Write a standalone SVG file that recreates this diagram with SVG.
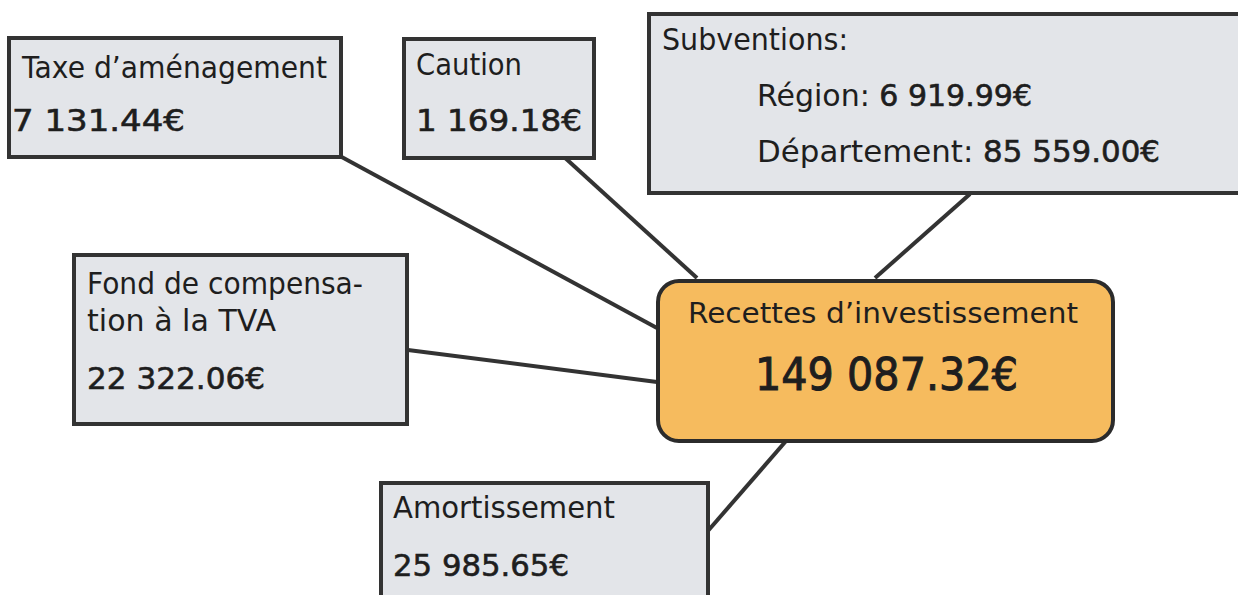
<svg xmlns="http://www.w3.org/2000/svg" width="1238" height="595" viewBox="0 0 1238 595">
<style>
.box{fill:#e3e5e9;stroke:#333;stroke-width:4}
.main{fill:#f6bb5e;stroke:#2b2b2b;stroke-width:4}
.conn{stroke:#333;stroke-width:4;fill:none}
text{font-family:"Comic Sans MS","DejaVu Sans",sans-serif;font-size:30px;fill:#1e1e1e}
.num{stroke:#1e1e1e;stroke-width:0.6}
.big{font-size:44px;stroke:#1e1e1e;stroke-width:1}
.title{font-size:28px}
</style>
<rect width="1238" height="595" fill="#ffffff"/>
<g id="connectors">
<line class="conn" x1="338" y1="155" x2="657" y2="328"/>
<line class="conn" x1="563" y1="156" x2="697" y2="278"/>
<line class="conn" x1="970" y1="194" x2="875" y2="278"/>
<line class="conn" x1="408" y1="350" x2="657" y2="382"/>
<line class="conn" x1="786" y1="441" x2="707" y2="532"/>
</g>
<g id="taxe">
<rect class="box" x="9" y="38" width="332" height="119"/>
<text x="22" y="78" textLength="305" lengthAdjust="spacingAndGlyphs">Taxe d’aménagement</text>
<text class="num" x="12" y="131" textLength="173" lengthAdjust="spacingAndGlyphs">7 131.44€</text>
</g>
<g id="caution">
<rect class="box" x="404" y="39" width="190" height="119"/>
<text x="416" y="75" textLength="106" lengthAdjust="spacingAndGlyphs">Caution</text>
<text class="num" x="416" y="131" textLength="166" lengthAdjust="spacingAndGlyphs">1 169.18€</text>
</g>
<g id="subventions">
<rect class="box" x="649" y="14" width="620" height="179"/>
<text x="662" y="50" textLength="186" lengthAdjust="spacingAndGlyphs">Subventions:</text>
<text x="757" y="106" textLength="275" lengthAdjust="spacingAndGlyphs">Région: <tspan class="num">6 919.99€</tspan></text>
<text x="757" y="162" textLength="403" lengthAdjust="spacingAndGlyphs">Département: <tspan class="num">85 559.00€</tspan></text>
</g>
<g id="fond">
<rect class="box" x="74" y="255" width="333" height="169"/>
<text x="87" y="294" textLength="276" lengthAdjust="spacingAndGlyphs">Fond de compensa-</text>
<text x="87" y="331" textLength="189" lengthAdjust="spacingAndGlyphs">tion à la TVA</text>
<text class="num" x="87" y="389" textLength="178" lengthAdjust="spacingAndGlyphs">22 322.06€</text>
</g>
<g id="recettes">
<rect class="main" x="658" y="281" width="455" height="160" rx="21" ry="21"/>
<text class="title" x="688" y="323" textLength="390" lengthAdjust="spacingAndGlyphs">Recettes d’investissement</text>
<text class="big" x="755" y="390" textLength="263" lengthAdjust="spacingAndGlyphs">149 087.32€</text>
</g>
<g id="amortissement">
<rect class="box" x="381" y="483" width="327" height="140"/>
<text x="393" y="518" textLength="222" lengthAdjust="spacingAndGlyphs">Amortissement</text>
<text class="num" x="393" y="576" textLength="176" lengthAdjust="spacingAndGlyphs">25 985.65€</text>
</g>
</svg>
